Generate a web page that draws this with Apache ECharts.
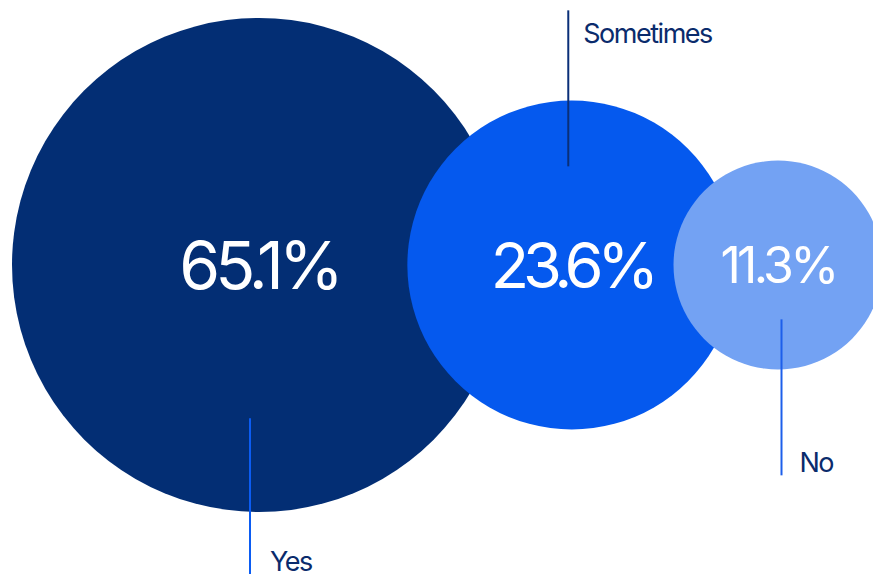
<!DOCTYPE html>
<html>
<head>
<meta charset="utf-8">
<script src="https://cdn.jsdelivr.net/npm/echarts@6/dist/echarts.min.js"></script>
<style>
  html, body { margin: 0; padding: 0; background: #ffffff; }
  #chart { width: 873px; height: 574px; }
  /* tight tracking: answer names */
  #chart text { letter-spacing: -0.055em; }
  /* tighter tracking on the big percentages */
  #chart text[style*="66px"], #chart text[font-size="66px"], #chart text[font-size="66"] { letter-spacing: -0.075em; }
  #chart text[style*="63px"], #chart text[font-size="63px"], #chart text[font-size="63"] { letter-spacing: -0.1em; }
  #chart text[style*="50px"], #chart text[font-size="50px"], #chart text[font-size="50"] { letter-spacing: -0.075em; }
</style>
</head>
<body>
<div id="chart"></div>
<script>
// Survey answers and their shares (%)
const categories = ['Yes', 'Sometimes', 'No'];
const shares = [65.1, 23.6, 11.3];
const valueLabels = ['65.1%', '23.6%', '11.3%'];

// Look of each bubble
const fills = ['#032e74', '#0559ee', '#73a2f3'];
const leaderColors = ['#0b5cf2', '#0a2f78', '#1d5fea'];
const valueFontSizes = [66, 63, 50];
const leaderSide = ['down', 'up', 'down'];
const leaderInset = [0.62, 0.60, 0.52];   // where the leader starts, as a share of the radius
const leaderShift = [-9, -3.5, 3.5];      // horizontal nudge of the leader from the centre
const labelGap = [20, 15, 18];            // space between leader and answer name

const FONT = 'Inter, "Noto Sans", sans-serif';
const LABEL_COLOR = '#0a2b6c';

// Bubble radius grows with the log of the share
const minShare = Math.min.apply(null, shares);
const maxShare = Math.max.apply(null, shares);
const R_MIN = 104.5, R_MAX = 247;
function radiusOf(v) {
  const t = (Math.log(v) - Math.log(minShare)) / (Math.log(maxShare) - Math.log(minShare));
  return R_MIN + t * (R_MAX - R_MIN);
}

// Bubbles sit in a row, each one tucked into the previous
const LEFT = 12, OVERLAP = 0.6, CY = 265, LEADER_LEN = 156;
function layout() {
  const out = [];
  let prev = null;
  shares.forEach(function (v) {
    const r = radiusOf(v);
    const cx = prev ? prev.cx + prev.r + r * (1 - OVERLAP) : LEFT + r;
    prev = { cx: cx, cy: CY, r: r };
    out.push(prev);
  });
  return out;
}

const chart = echarts.init(document.getElementById('chart'), null, { renderer: 'svg' });

chart.setOption({
  animation: false,
  backgroundColor: '#ffffff',
  series: [{
    type: 'custom',
    coordinateSystem: 'none',
    data: shares.map(function (v, i) { return [v, i]; }),
    renderItem: function (params, api) {
      const i = api.value(1);
      const b = layout()[i];
      const lx = b.cx + leaderShift[i];
      let y1, y2, ty;
      if (leaderSide[i] === 'down') {
        y1 = b.cy + leaderInset[i] * b.r;
        y2 = y1 + LEADER_LEN;
        ty = y2 - 12.6;
      } else {
        y2 = b.cy - leaderInset[i] * b.r;
        y1 = y2 - LEADER_LEN;
        ty = y1 + 22.7;
      }
      return {
        type: 'group',
        children: [
          {
            type: 'circle',
            shape: { cx: b.cx, cy: b.cy, r: b.r },
            style: { fill: fills[i] }
          },
          {
            type: 'text',
            x: b.cx, y: b.cy,
            style: {
              text: valueLabels[i],
              fill: '#ffffff',
              font: '400 ' + valueFontSizes[i] + 'px ' + FONT,
              align: 'center',
              verticalAlign: 'middle'
            }
          },
          {
            type: 'line',
            shape: { x1: lx, y1: y1, x2: lx, y2: y2 },
            style: { stroke: leaderColors[i], lineWidth: 2 }
          },
          {
            type: 'text',
            x: lx + labelGap[i], y: ty,
            style: {
              text: categories[i],
              fill: LABEL_COLOR,
              font: '400 27px ' + FONT,
              align: 'left',
              verticalAlign: 'middle'
            }
          }
        ]
      };
    }
  }]
});
</script>
</body>
</html>
